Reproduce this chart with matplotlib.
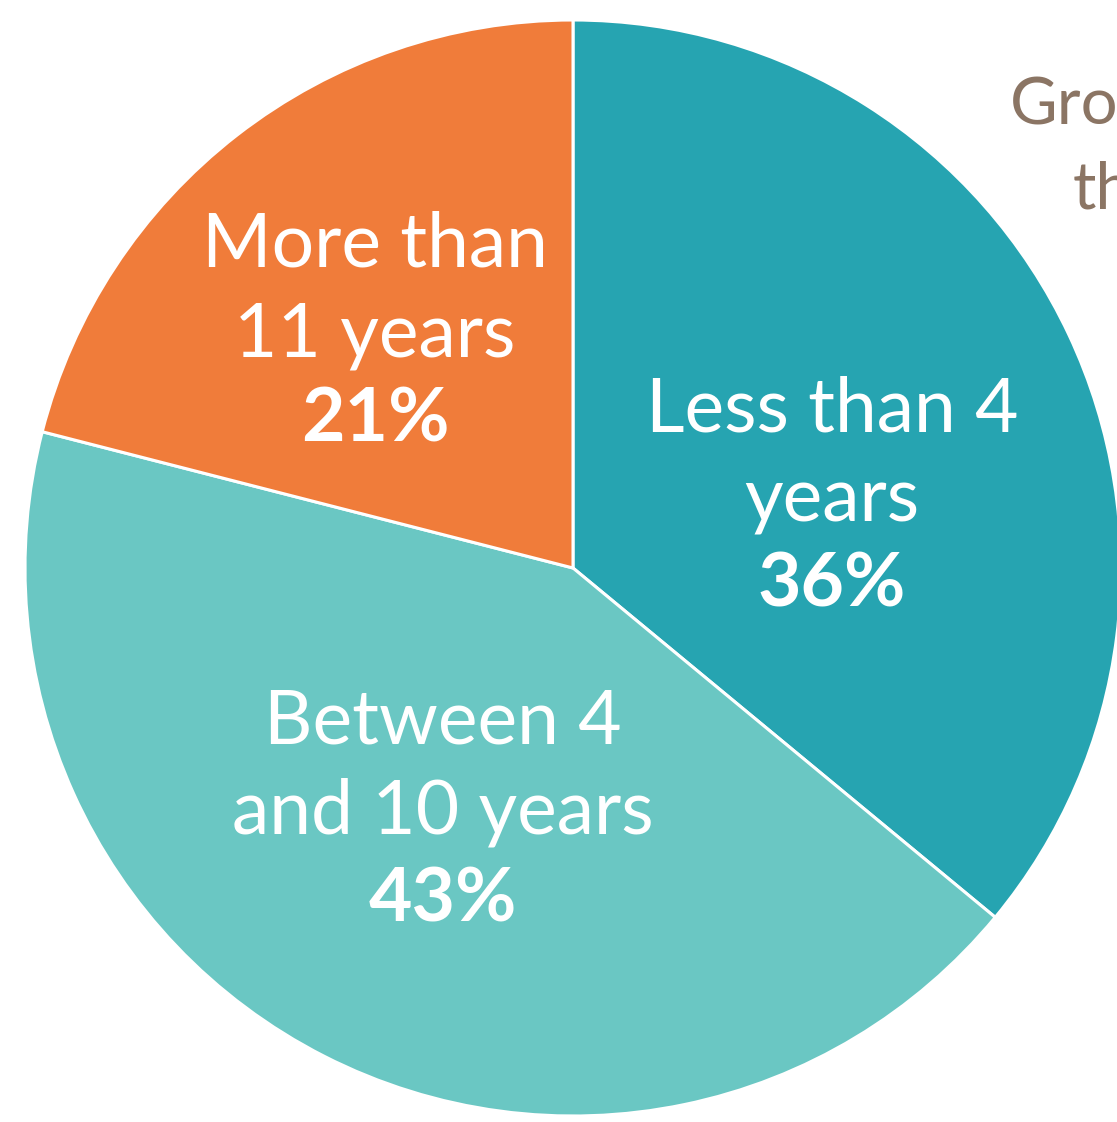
import matplotlib
matplotlib.use("Agg")
import matplotlib.pyplot as plt

labels = ["Less than 4\nyears", "Between 4\nand 10 years", "More than\n11 years"]
values = [36, 43, 21]
colors = ["#26A4B1", "#6AC7C3", "#F07C3A"]

W, H = 1117, 1122
fig = plt.figure(figsize=(W / 100, H / 100), dpi=100)
ax = fig.add_axes([0, 0, 1, 1])

cx, cy, r = 573, H - 568, 548
ax.pie(values, colors=colors, startangle=90, counterclock=False,
       center=(cx, cy), radius=r, frame=True,
       wedgeprops=dict(edgecolor="white", linewidth=2.2))
ax.set_xlim(0, W)
ax.set_ylim(0, H)
ax.set_aspect("equal")
ax.axis("off")

font = "Lato"
# label positions (pixel coordinates of text centers)
pos = [(832, 410, 500, 585), (443, 722, 812, 900), (375, 245, 335, 420)]
for lab, val, (x, y1, y2, y3) in zip(labels, values, pos):
    l1, l2 = lab.split("\n")
    ax.text(x, H - y1, l1, ha="center", va="center", color="white",
            fontsize=54, family=font)
    ax.text(x, H - y2, l2, ha="center", va="center", color="white",
            fontsize=54, family=font)
    ax.text(x, H - y3, f"{val}%", ha="center", va="center", color="white",
            fontsize=54, family=font, fontweight="bold")

ax.text(1010, H - 106, "Grow", ha="left", va="center", color="#8B7564",
        fontsize=47, family=font)
ax.text(1073, H - 190, "th", ha="left", va="center", color="#8B7564",
        fontsize=47, family=font)

fig.savefig("out.png", dpi=100, facecolor="white")
